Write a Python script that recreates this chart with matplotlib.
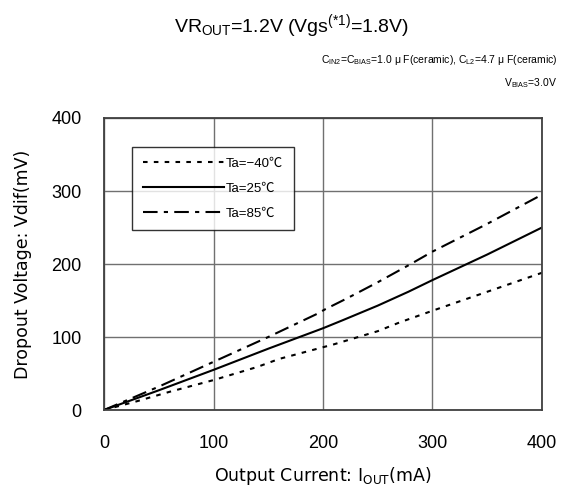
import matplotlib
matplotlib.use('Agg')
import matplotlib.pyplot as plt

plt.rcParams['font.family'] = ['Liberation Sans', 'Noto Sans CJK JP', 'DejaVu Sans']
plt.rcParams['mathtext.default'] = 'regular'

# Dropout voltage vs output current
i_m40 = [0, 30, 60, 100, 140, 160, 200, 210, 250, 270, 300, 350, 400]
v_m40 = [0, 12, 25, 41, 59, 70, 86, 90, 108, 120, 136, 162, 188]

i_25 = [0, 50, 100, 150, 200, 218, 250, 278, 300, 350, 400]
v_25 = [0, 27, 55, 84, 112, 123, 143, 162, 178, 213, 250]

i_85 = [0, 50, 100, 150, 195, 202, 222, 250, 279, 300, 350, 400]
v_85 = [0, 32, 66, 100, 132, 138, 153, 175, 199, 217, 255, 295]

ticks = [0, 100, 200, 300, 400]

fig = plt.figure(figsize=(5.61, 4.88), dpi=100)
ax = fig.add_axes([0.1854, 0.1598, 0.7807, 0.5984])

ax.plot(i_m40, v_m40, color='black', lw=1.5, linestyle=(0, (2.2, 3)), label='Ta=−40℃')
ax.plot(i_25, v_25, color='black', lw=1.5, linestyle='-', label='Ta=25℃')
ax.plot(i_85, v_85, color='black', lw=1.5, linestyle=(0, (7, 3, 2, 3)), label='Ta=85℃')

ax.set_xlim(0, 400)
ax.set_ylim(0, 400)
ax.set_xticks(ticks)
ax.set_yticks(ticks)
ax.tick_params(length=0, labelsize=13)
ax.tick_params(axis='x', pad=18)
ax.tick_params(axis='y', pad=16)
ax.grid(True, color='#707070', lw=1)
for s in ax.spines.values():
    s.set_color('#404040')
    s.set_linewidth(1.3)

ax.set_xlabel('Output Current: I$_{OUT}$(mA)', fontsize=12.5, labelpad=9,
              family=['DejaVu Sans'])
ax.set_ylabel('Dropout Voltage: Vdif(mV)', fontsize=12.5, labelpad=14,
              family=['DejaVu Sans'])

leg = ax.legend(loc='upper left', bbox_to_anchor=(0.064, 0.90), borderaxespad=0,
                fontsize=9.5, handlelength=6.2, handletextpad=0.1, frameon=True,
                fancybox=False, borderpad=0.8, labelspacing=0.95)
leg.get_frame().set_edgecolor('black')
leg.get_frame().set_linewidth(1)

fig.text(0.52, 0.934, 'VR$_{OUT}$=1.2V (Vgs$^{(*1)}$=1.8V)', fontsize=14, ha='center', va='baseline')
fig.text(0.994, 0.871, 'C$_{IN2}$=C$_{BIAS}$=1.0 μ F(ceramic), C$_{L2}$=4.7 μ F(ceramic)',
         fontsize=7.5, ha='right', va='baseline')
fig.text(0.994, 0.824, 'V$_{BIAS}$=3.0V', fontsize=7.5, ha='right', va='baseline')

fig.savefig('out.png', dpi=100)
